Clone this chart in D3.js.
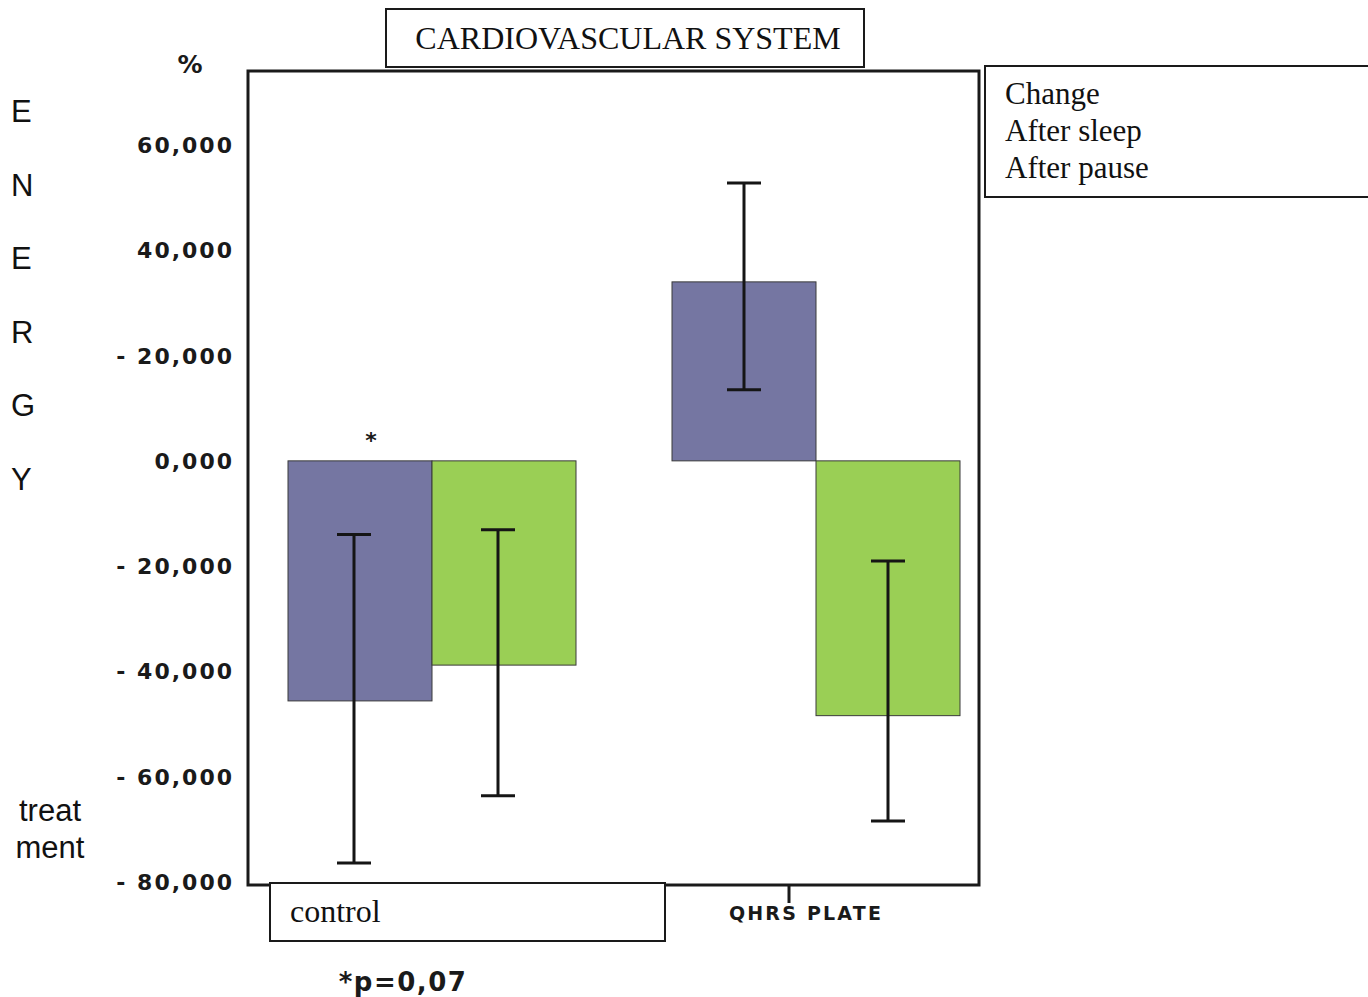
<!DOCTYPE html>
<html>
<head>
<meta charset="utf-8">
<script src="https://cdn.jsdelivr.net/npm/d3@7.9.0/dist/d3.min.js"></script>
<style>
  body { margin: 0; background: #fff; }
  .bold { font-family: "DejaVu Sans", sans-serif; font-weight: bold; fill: #1a1a1a; }
  .serif { font-family: "Liberation Serif", "Times New Roman", serif; fill: #111; }
  .sans { font-family: "Liberation Sans", Arial, sans-serif; fill: #111; }
</style>
</head>
<body>
<svg id="chart" width="1368" height="997"></svg>
<script>
// data
const groups = ["control", "QHRS PLATE"];
const series = ["After sleep", "After pause"];
const afterSleep = [-45600, 34000];
const afterPause = [-38800, -48400];
const sleepErr = [[-76400, -14000], [13500, 52800]];
const pauseErr = [[-63600, -13100], [-68400, -19000]];
const tickValues = [60000, 40000, 20000, 0, -20000, -40000, -60000, -80000];
const tickLabels = ["60,000", "40,000", "- 20,000", "0,000", "- 20,000", "- 40,000", "- 60,000", "- 80,000"];
const energyLetters = ["E", "N", "E", "R", "G", "Y"];
const legendLines = ["Change", "After sleep", "After pause"];

const colors = { "After sleep": "#7576a2", "After pause": "#9acf55" };

const svg = d3.select("#chart");

const y = d3.scaleLinear().domain([-80000, 60000]).range([882, 145]);
const x = d3.scalePoint().domain(groups).range([432, 816]);
const xSub = d3.scaleBand().domain(series).range([-144, 144]).paddingInner(0);

const rows = [];
groups.forEach((g, i) => {
  rows.push({ group: g, s: "After sleep", value: afterSleep[i], err: sleepErr[i] });
  rows.push({ group: g, s: "After pause", value: afterPause[i], err: pauseErr[i] });
});

// plot frame
svg.append("rect")
  .attr("x", 248).attr("y", 71)
  .attr("width", 731).attr("height", 814)
  .attr("fill", "none").attr("stroke", "#1a1a1a").attr("stroke-width", 3);

// bars
svg.append("g").selectAll("rect")
  .data(rows)
  .join("rect")
  .attr("x", d => x(d.group) + xSub(d.s))
  .attr("width", xSub.bandwidth())
  .attr("y", d => y(Math.max(0, d.value)))
  .attr("height", d => Math.abs(y(d.value) - y(0)))
  .attr("fill", d => colors[d.s])
  .attr("stroke", "#3a3a3a")
  .attr("stroke-width", 1);

// error bars
const eb = svg.append("g").attr("stroke", "#151515").attr("stroke-width", 3);
rows.forEach(d => {
  const cx = x(d.group) + xSub(d.s) + xSub.bandwidth() / 2 - (d.group === "control" ? 6 : 0);
  eb.append("line").attr("x1", cx).attr("x2", cx).attr("y1", y(d.err[0])).attr("y2", y(d.err[1]));
  d.err.forEach(v => {
    eb.append("line").attr("x1", cx - 17).attr("x2", cx + 17).attr("y1", y(v)).attr("y2", y(v));
  });
});

// y tick labels
svg.append("g").selectAll("text")
  .data(tickValues)
  .join("text")
  .attr("class", "bold")
  .attr("x", 234)
  .attr("y", d => y(d) + 8)
  .attr("text-anchor", "end")
  .style("font-size", "22px")
  .style("letter-spacing", "2px")
  .text((d, i) => tickLabels[i]);

svg.append("text").attr("class", "bold").attr("x", 190).attr("y", 73)
  .attr("text-anchor", "middle").style("font-size", "25px").text("%");

// ENERGY vertical label
svg.append("g").selectAll("text")
  .data(energyLetters)
  .join("text")
  .attr("class", "sans")
  .attr("x", 11)
  .attr("y", (d, i) => 122 + i * 73.6)
  .style("font-size", "31px")
  .text(d => d);

svg.append("text").attr("class", "sans").attr("x", 50).attr("y", 821)
  .attr("text-anchor", "middle").style("font-size", "31px").text("treat");
svg.append("text").attr("class", "sans").attr("x", 50).attr("y", 858)
  .attr("text-anchor", "middle").style("font-size", "31px").text("ment");

// significance star
svg.append("text").attr("class", "bold").attr("x", 371).attr("y", 448)
  .attr("text-anchor", "middle").style("font-size", "22px").text("*");

// title box
svg.append("rect").attr("x", 386).attr("y", 9).attr("width", 478).attr("height", 58)
  .attr("fill", "#fff").attr("stroke", "#1a1a1a").attr("stroke-width", 2);
svg.append("text").attr("class", "serif").attr("x", 628).attr("y", 49)
  .attr("text-anchor", "middle").style("font-size", "32px").text("CARDIOVASCULAR SYSTEM");

// legend box
svg.append("rect").attr("x", 985).attr("y", 66).attr("width", 400).attr("height", 131)
  .attr("fill", "#fff").attr("stroke", "#1a1a1a").attr("stroke-width", 2);
svg.append("g").selectAll("text")
  .data(legendLines)
  .join("text")
  .attr("class", "serif")
  .attr("x", 1005)
  .attr("y", (d, i) => 104 + i * 37)
  .style("font-size", "31px")
  .text(d => d);

// control category box
svg.append("rect").attr("x", 270).attr("y", 883).attr("width", 395).attr("height", 58)
  .attr("fill", "#fff").attr("stroke", "#1a1a1a").attr("stroke-width", 2);
svg.append("text").attr("class", "serif").attr("x", 290).attr("y", 922)
  .style("font-size", "32px").text(groups[0]);

// QHRS tick + label
svg.append("line").attr("x1", 789).attr("x2", 789).attr("y1", 885).attr("y2", 903)
  .attr("stroke", "#1a1a1a").attr("stroke-width", 3);
svg.append("text").attr("class", "bold").attr("x", 806).attr("y", 920)
  .attr("text-anchor", "middle").style("font-size", "19px").style("letter-spacing", "2.2px").text(groups[1]);

// p value note
svg.append("text").attr("class", "bold").attr("x", 403).attr("y", 991)
  .attr("text-anchor", "middle").style("font-size", "26px").style("letter-spacing", "1.5px").text("*p=0,07");
</script>
</body>
</html>
